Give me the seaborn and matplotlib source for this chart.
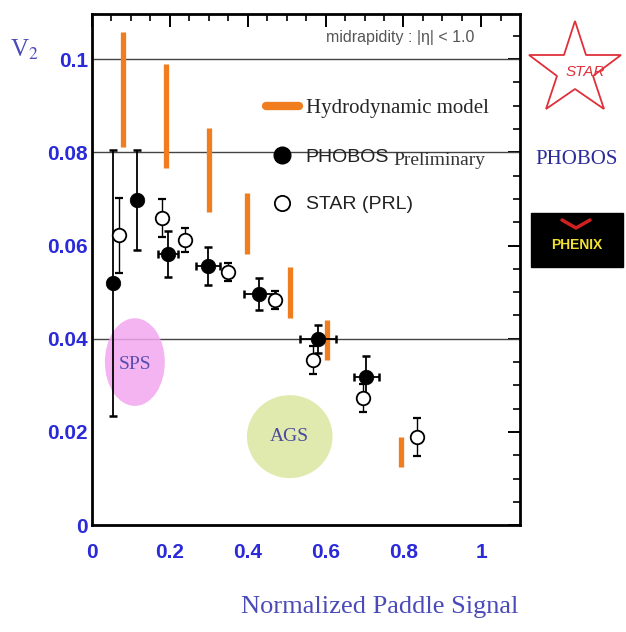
import numpy as np
import pandas as pd
import seaborn as sns
import matplotlib.pyplot as plt
from matplotlib.patches import Ellipse, Rectangle
from matplotlib.lines import Line2D

# Elliptic flow v2 versus normalized paddle signal (centrality)
phobos_x = [0.054, 0.115, 0.195, 0.298, 0.430, 0.580, 0.705]
phobos_v2 = [0.052, 0.0697, 0.0582, 0.0556, 0.0496, 0.0400, 0.0317]
phobos_yerr = [0.0285, 0.0107, 0.0050, 0.0040, 0.0035, 0.0030, 0.0045]
phobos_xerr = [0.0, 0.0, 0.025, 0.030, 0.040, 0.046, 0.033]

star_x = [0.069, 0.179, 0.238, 0.349, 0.469, 0.567, 0.695, 0.836]
star_v2 = [0.0622, 0.0659, 0.0612, 0.0543, 0.0483, 0.0354, 0.0272, 0.0189]
star_yerr = [0.0080, 0.0040, 0.0025, 0.0020, 0.0020, 0.0030, 0.0030, 0.0040]

hydro_x = [0.079, 0.190, 0.300, 0.397, 0.508, 0.603, 0.795]
hydro_lo = [0.0811, 0.0766, 0.0672, 0.0582, 0.0444, 0.0354, 0.0124]
hydro_hi = [0.1058, 0.0990, 0.0852, 0.0713, 0.0554, 0.0440, 0.0189]

x_ticks = [0, 0.2, 0.4, 0.6, 0.8, 1.0]
x_ticklabels = ["0", "0.2", "0.4", "0.6", "0.8", "1"]
y_ticks = [0, 0.02, 0.04, 0.06, 0.08, 0.1]
y_ticklabels = ["0", "0.02", "0.04", "0.06", "0.08", "0.1"]
ref_lines = [0.04, 0.08, 0.1]

phobos = pd.DataFrame({"x": phobos_x, "v2": phobos_v2})
star = pd.DataFrame({"x": star_x, "v2": star_v2})

sns.set_theme(style="white")
plt.rcParams["font.family"] = ["Liberation Sans", "DejaVu Sans"]
plt.rcParams["mathtext.fontset"] = "stix"

tick_blue = "#2a2ad8"
label_blue = "#4a4ab8"
orange = "#f07d1e"
serif = ["Liberation Serif", "DejaVu Serif"]

fig = plt.figure(figsize=(6.26, 6.32), dpi=100)
ax = fig.add_axes([0.147, 0.169, 0.684, 0.809])

ax.set_xlim(0, 1.1)
ax.set_ylim(0, 0.1097)

for yv in ref_lines:
    ax.axhline(yv, color="#444444", lw=1.0, zorder=1)

# Heavy-ion reference regions
ax.add_patch(Ellipse((0.11, 0.035), 0.154, 0.0188, color="#f3a6ef", alpha=0.85, lw=0, zorder=2))
ax.text(0.11, 0.0345, "SPS", ha="center", va="center", fontsize=14,
        family=serif, color="#5a4fb0", zorder=3)
ax.add_patch(Ellipse((0.508, 0.0190), 0.22, 0.0178, color="#dde8a6", alpha=0.9, lw=0, zorder=2))
ax.text(0.508, 0.0190, "AGS", ha="center", va="center", fontsize=14,
        family=serif, color="#4a4a9a", zorder=3)

# Hydrodynamic model ranges
ax.vlines(hydro_x, hydro_lo, hydro_hi, color=orange, lw=3.8, zorder=4)

# Error bars
ax.errorbar(star_x, star_v2, yerr=star_yerr, fmt="none", ecolor="black",
            elinewidth=1.0, capsize=3, capthick=1.6, zorder=5)
ax.errorbar(phobos_x, phobos_v2, yerr=phobos_yerr, xerr=phobos_xerr, fmt="none",
            ecolor="black", elinewidth=1.3, capsize=3, capthick=1.8, zorder=6)

sns.scatterplot(data=star, x="x", y="v2", ax=ax, marker="o", s=95,
                facecolor="white", edgecolor="black", linewidth=1.3, zorder=7)
sns.scatterplot(data=phobos, x="x", y="v2", ax=ax, marker="o", s=110,
                color="black", edgecolor="black", linewidth=0.5, zorder=8)

ax.set_xlabel("")
ax.set_ylabel("")
ax.set_xticks(x_ticks)
ax.set_xticklabels(x_ticklabels)
ax.set_yticks(y_ticks)
ax.set_yticklabels(y_ticklabels)
ax.set_xticks(np.arange(0, 1.1, 0.05), minor=True)
ax.set_yticks(np.arange(0, 0.11, 0.005), minor=True)
ax.tick_params(axis="both", which="both", direction="in", top=True, right=True,
               colors="black", labelcolor=tick_blue)
ax.tick_params(axis="both", which="major", length=9, width=1.4)
ax.tick_params(axis="both", which="minor", length=5, width=1.2)
ax.tick_params(axis="x", which="major", pad=13)
ax.tick_params(axis="y", which="major", pad=3)
for lab in ax.get_xticklabels() + ax.get_yticklabels():
    lab.set_fontsize(15)
    lab.set_fontweight("bold")
for side in ax.spines.values():
    side.set_visible(True)
    side.set_color("black")
    side.set_linewidth(2.0)

ax.text(0.792, 0.1047, "midrapidity : |η| < 1.0", ha="center", va="center",
        fontsize=11.5, color="#555555", zorder=9)

# Legend
handles = [
    Line2D([], [], color=orange, lw=6),
    Line2D([], [], marker="o", ls="none", color="black", markersize=12),
    Line2D([], [], marker="o", ls="none", markerfacecolor="white",
           markeredgecolor="black", markeredgewidth=1.3, markersize=11),
]
leg = ax.legend(handles, ["Hydrodynamic model", "PHOBOS", "STAR (PRL)"],
                loc="upper left", bbox_to_anchor=(0.365, 0.868), frameon=False,
                fontsize=14, labelspacing=1.55, handlelength=1.7, handletextpad=0.35)
txts = leg.get_texts()
txts[0].set_family(serif)
txts[0].set_fontsize(15)
txts[1].set_color("#222222")
txts[2].set_color("#222222")
ax.text(0.775, 0.0782, "Preliminary", family=serif, fontsize=14, color="#333333",
        ha="left", va="center", zorder=9)

# Axis titles
fig.text(24 / 626, 1 - 50 / 632, r"V$_{2}$", family=serif, fontsize=18,
         color=label_blue, ha="center", va="center")
fig.text(518 / 626, 1 - 607 / 632, "Normalized Paddle Signal", family=serif,
         fontsize=19, color=label_blue, ha="right", va="center")

# Experiment logos
logo = fig.add_axes([0, 0, 1, 1], facecolor="none")
logo.set_xlim(0, 626)
logo.set_ylim(632, 0)
logo.axis("off")
logo.plot([575], [70], marker="*", markersize=70, markerfacecolor="white",
          markeredgecolor="#e0303a", markeredgewidth=1.3)
logo.text(585, 72, "STAR", color="#e0303a", fontsize=11, style="italic",
          ha="center", va="center")
logo.text(577, 160, "PHOBOS", color="#2a2a9a", fontsize=15, family=serif,
          ha="center", va="center")
logo.add_patch(Rectangle((531, 213), 92, 54, color="black"))
logo.plot([562, 576, 590], [220, 228, 220], color="#d02020", lw=2.5)
logo.text(577, 245, "PHENIX", color="#f0e030", fontsize=10, fontweight="bold",
          ha="center", va="center")

fig.savefig("out.png", dpi=100)
